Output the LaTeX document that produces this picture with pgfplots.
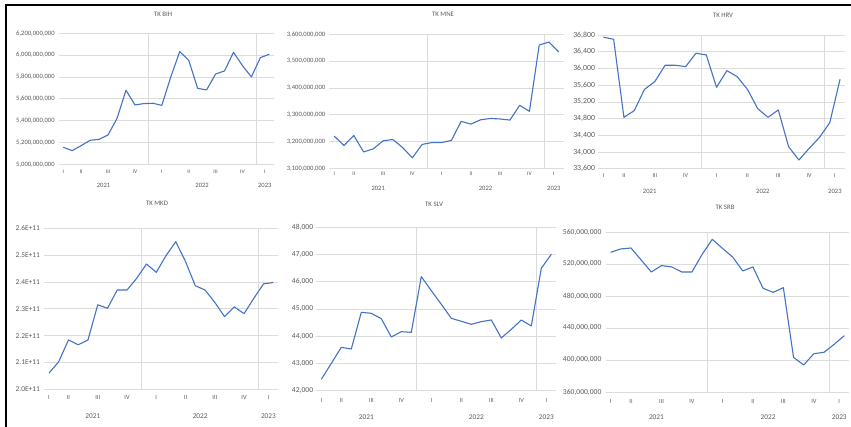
\documentclass[border=0pt]{standalone}
\usepackage{pgfplots}
\pgfplotsset{compat=1.18}
\usepackage{fontspec}
\setmainfont{Carlito}
\definecolor{linec}{HTML}{4472C4}
\definecolor{gridc}{HTML}{DCDCDC}
\definecolor{labc}{HTML}{595959}
\pgfplotsset{
  panel/.style={
    scale only axis, clip=false,
    xmin=-0.5, xmax=23.5,
    axis line style={draw=none},
    major tick length=0pt,
    ymajorgrids,
    grid style={draw=gridc, line width=0.6pt},
    xtick={0,2,5,8,11,14,17,20,22.5},
    xticklabels={I,II,III,IV,I,II,III,IV,I},
    extra x ticks={9.5,21.5},
    extra x tick labels={},
    extra x tick style={grid=major},
    scaled y ticks=false,
    tick label style={text=labc},
    yticklabel style={anchor=east, inner sep=0pt, xshift=-4pt},
  },
  ser/.style={color=linec, line width=1.1pt, mark=none, line join=round},
}
\tikzset{yl/.style={text=labc, font=\fontsize{6.6}{7}\selectfont, inner sep=0pt},
         tt/.style={text=labc, font=\fontsize{6.8}{8}\selectfont, inner sep=0pt}}
\begin{document}
\begin{tikzpicture}[x=1pt,y=1pt]
\path[use as bounding box] (0pt,0pt) rectangle (851pt,427pt);

% ---------- TK BIH ----------
\begin{axis}[panel, at={(58.8pt,262.7pt)}, anchor=south west, width=215pt, height=131pt,
  ymin=5000000000, ymax=6200000000,
  ytick={5000000000,5200000000,5400000000,5600000000,5800000000,6000000000,6200000000},
  yticklabels={{5,000,000,000},{5,200,000,000},{5,400,000,000},{5,600,000,000},{5,800,000,000},{6,000,000,000},{6,200,000,000}},
  yticklabel style={font=\fontsize{6.6}{7}\selectfont},
  xticklabel style={font=\fontsize{5.5}{6}\selectfont, anchor=center, yshift=-7.7pt}]
\addplot[ser] table {
x y
0 5156000000
1 5125000000
2 5171000000
3 5220000000
4 5229000000
5 5269000000
6 5421000000
7 5678000000
8 5544000000
9 5556000000
10 5559000000
11 5540000000
12 5800000000
13 6032000000
14 5953000000
15 5696000000
16 5681000000
17 5827000000
18 5855000000
19 6026000000
20 5904000000
21 5800000000
22 5977000000
23 6008000000
};
\node[yl] at (axis cs:4.5,5000000000) [yshift=-20.7pt] {2021};
\node[yl] at (axis cs:15.5,5000000000) [yshift=-20.7pt] {2022};
\node[yl] at (axis cs:22.5,5000000000) [yshift=-20.7pt] {2023};
\end{axis}

% ---------- TK MNE ----------
\begin{axis}[panel, at={(329.4pt,258.7pt)}, anchor=south west, width=234.2pt, height=134pt,
  ymin=3100000000, ymax=3600000000,
  ytick={3100000000,3200000000,3300000000,3400000000,3500000000,3600000000},
  yticklabels={{3,100,000,000},{3,200,000,000},{3,300,000,000},{3,400,000,000},{3,500,000,000},{3,600,000,000}},
  yticklabel style={font=\fontsize{6.6}{7}\selectfont},
  xticklabel style={font=\fontsize{5.5}{6}\selectfont, anchor=center, yshift=-5.5pt}]
\addplot[ser] table {
x y
0 3220000000
1 3185000000
2 3222500000
3 3161000000
4 3172500000
5 3202500000
6 3207500000
7 3177500000
8 3139000000
9 3189000000
10 3196000000
11 3196000000
12 3204000000
13 3275000000
14 3265000000
15 3281000000
16 3286000000
17 3284000000
18 3280000000
19 3335000000
20 3312500000
21 3560000000
22 3571000000
23 3534000000
};
\node[yl] at (axis cs:4.5,3100000000) [yshift=-19.7pt] {2021};
\node[yl] at (axis cs:15.5,3100000000) [yshift=-19.7pt] {2022};
\node[yl] at (axis cs:22.5,3100000000) [yshift=-19.7pt] {2023};
\end{axis}

% ---------- TK HRV ----------
\begin{axis}[panel, at={(598.2pt,258.3pt)}, anchor=south west, width=247pt, height=133.7pt,
  ymin=33600, ymax=36800,
  ytick={33600,34000,34400,34800,35200,35600,36000,36400,36800},
  yticklabels={{33,600},{34,000},{34,400},{34,800},{35,200},{35,600},{36,000},{36,400},{36,800}},
  yticklabel style={font=\fontsize{7.8}{8}\selectfont, xshift=1pt},
  xticklabel style={font=\fontsize{6}{7}\selectfont, anchor=center, yshift=-6.5pt}]
\addplot[ser] table {
x y
0 36746
1 36698
2 34830
3 34989
4 35500
5 35684
6 36075
7 36075
8 36043
9 36363
10 36323
11 35548
12 35947
13 35804
14 35500
15 35037
16 34830
17 35005
18 34127
19 33808
20 34087
21 34350
22 34702
23 35740
};
\node[yl] at (axis cs:4.5,33600) [yshift=-23pt] {2021};
\node[yl] at (axis cs:15.5,33600) [yshift=-23pt] {2022};
\node[yl] at (axis cs:22.5,33600) [yshift=-23pt] {2023};
\end{axis}

% ---------- TK MKD ----------
\begin{axis}[panel, at={(44.1pt,37.7pt)}, anchor=south west, width=234.1pt, height=161pt,
  ymin=200000000000, ymax=260000000000,
  ytick={200000000000,210000000000,220000000000,230000000000,240000000000,250000000000,260000000000},
  yticklabels={2.0E+11,2.1E+11,2.2E+11,2.3E+11,2.4E+11,2.5E+11,2.6E+11},
  yticklabel style={font=\fontsize{7.4}{8}\selectfont},
  xticklabel style={font=\fontsize{6.3}{7}\selectfont, anchor=center, yshift=-8pt}]
\addplot[ser] table {
x y
0 206000000000
1 210300000000
2 218400000000
3 216600000000
4 218400000000
5 231500000000
6 230200000000
7 237000000000
8 237000000000
9 241400000000
10 246700000000
11 243600000000
12 249800000000
13 255000000000
14 247600000000
15 238600000000
16 237000000000
17 232400000000
18 227100000000
19 230700000000
20 228200000000
21 233900000000
22 239300000000
23 239800000000
};
\node[yl,font=\fontsize{7.3}{8}\selectfont] at (axis cs:4.5,200000000000) [yshift=-26.7pt] {2021};
\node[yl,font=\fontsize{7.3}{8}\selectfont] at (axis cs:15.5,200000000000) [yshift=-26.7pt] {2022};
\node[yl,font=\fontsize{7.3}{8}\selectfont] at (axis cs:22.5,200000000000) [yshift=-26.7pt] {2023};
\end{axis}

% ---------- TK SLV ----------
\begin{axis}[panel, at={(316.3pt,36.3pt)}, anchor=south west, width=240pt, height=163.7pt,
  ymin=42000, ymax=48000,
  ytick={42000,43000,44000,45000,46000,47000,48000},
  yticklabels={{42,000},{43,000},{44,000},{45,000},{46,000},{47,000},{48,000}},
  yticklabel style={font=\fontsize{7.6}{8}\selectfont, xshift=1pt},
  xticklabel style={font=\fontsize{6.3}{7}\selectfont, anchor=center, yshift=-9.3pt}]
\addplot[ser] table {
x y
0 42416
1 43002
2 43589
3 43528
4 44873
5 44836
6 44640
7 43968
8 44164
9 44139
10 46181
11 45667
12 45166
13 44653
14 44543
15 44433
16 44531
17 44592
18 43932
19 44249
20 44592
21 44372
22 46487
23 47000
};
\node[yl,font=\fontsize{7.3}{8}\selectfont] at (axis cs:4.5,42000) [yshift=-26.3pt] {2021};
\node[yl,font=\fontsize{7.3}{8}\selectfont] at (axis cs:15.5,42000) [yshift=-26.3pt] {2022};
\node[yl,font=\fontsize{7.3}{8}\selectfont] at (axis cs:22.5,42000) [yshift=-26.3pt] {2023};
\end{axis}

% ---------- TK SRB ----------
\begin{axis}[panel, at={(605.6pt,35pt)}, anchor=south west, width=243.8pt, height=160pt,
  ymin=360000000, ymax=560000000,
  ytick={360000000,400000000,440000000,480000000,520000000,560000000},
  yticklabels={{360,000,000},{400,000,000},{440,000,000},{480,000,000},{520,000,000},{560,000,000}},
  yticklabel style={font=\fontsize{7.6}{8}\selectfont},
  xticklabel style={font=\fontsize{6.3}{7}\selectfont, anchor=center, yshift=-9.7pt}]
\addplot[ser] table {
x y
0 534600000
1 538800000
2 540000000
3 525000000
4 510000000
5 518000000
6 516300000
7 510000000
8 510000000
9 532000000
10 550800000
11 539600000
12 528800000
13 511300000
14 516300000
15 489600000
16 484600000
17 490400000
18 403300000
19 393750000
20 407900000
21 409600000
22 419600000
23 430400000
};
\node[yl,font=\fontsize{7.3}{8}\selectfont] at (axis cs:4.5,360000000) [yshift=-25.3pt] {2021};
\node[yl,font=\fontsize{7.3}{8}\selectfont] at (axis cs:15.5,360000000) [yshift=-25.3pt] {2022};
\node[yl,font=\fontsize{7.3}{8}\selectfont] at (axis cs:22.5,360000000) [yshift=-25.3pt] {2023};
\end{axis}

% titles
\node[tt] at (163pt,413pt) {TK BIH};
\node[tt] at (443pt,413pt) {TK MNE};
\node[tt] at (723pt,412pt) {TK HRV};
\node[tt] at (157pt,224pt) {TK MKD};
\node[tt] at (434pt,223pt) {TK SLV};
\node[tt] at (725pt,220pt) {TK SRB};

% frame (top and left)
\draw[line width=2pt, black] (6pt,0pt) -- (6pt,422.3pt) -- (851pt,422.3pt);
\end{tikzpicture}
\end{document}
